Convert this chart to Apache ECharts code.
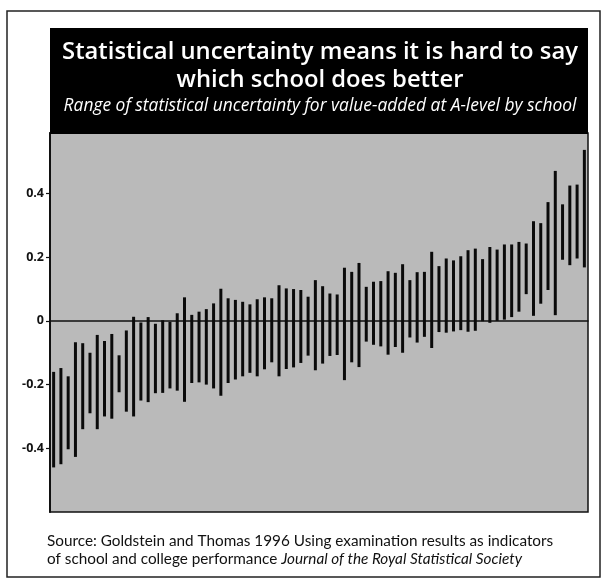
<!DOCTYPE html>
<html>
<head>
<meta charset="utf-8">
<script src="https://cdn.jsdelivr.net/npm/echarts@6/dist/echarts.min.js"></script>
<style>
  html, body { margin: 0; padding: 0; background: #fff; }
  #chart { width: 608px; height: 581px; }
</style>
</head>
<body>
<div id="chart"></div>
<script>
// lower and upper ends of the uncertainty range, one per school (ranked)
var lows = [
  -0.46, -0.45, -0.403, -0.427, -0.34, -0.29, -0.34, -0.30, -0.307, -0.224,
  -0.285, -0.30, -0.25, -0.255, -0.227, -0.226, -0.212, -0.219, -0.254, -0.195,
  -0.193, -0.20, -0.212, -0.235, -0.195, -0.184, -0.174, -0.163, -0.174, -0.152,
  -0.13, -0.174, -0.151, -0.146, -0.132, -0.109, -0.155, -0.134, -0.11, -0.107,
  -0.186, -0.13, -0.145, -0.065, -0.075, -0.08, -0.106, -0.082, -0.10, -0.052,
  -0.068, -0.05, -0.085, -0.035, -0.037, -0.033, -0.029, -0.034, -0.031, -0.001,
  -0.006, 0.0, 0.004, 0.012, 0.029, 0.084, 0.016, 0.054, 0.097, 0.018,
  0.192, 0.175, 0.196, 0.168
];
var highs = [
  -0.16, -0.148, -0.174, -0.067, -0.07, -0.10, -0.044, -0.063, -0.041, -0.108,
  -0.03, 0.013, -0.005, 0.012, -0.009, 0.002, -0.003, 0.024, 0.074, 0.019,
  0.029, 0.037, 0.055, 0.101, 0.071, 0.066, 0.06, 0.052, 0.068, 0.074,
  0.071, 0.112, 0.102, 0.10, 0.097, 0.076, 0.128, 0.109, 0.086, 0.083,
  0.167, 0.154, 0.182, 0.107, 0.123, 0.125, 0.156, 0.151, 0.178, 0.128,
  0.153, 0.154, 0.217, 0.172, 0.196, 0.19, 0.203, 0.222, 0.227, 0.194,
  0.232, 0.224, 0.24, 0.24, 0.248, 0.243, 0.313, 0.307, 0.373, 0.471,
  0.366, 0.425, 0.428, 0.537
];
var schools = lows.map(function (v, i) { return 'School ' + (i + 1); });
var tickValues = [-0.4, -0.2, 0, 0.2, 0.4];
var tickLabels = ['-0.4', '-0.2', '0', '0.2', '0.4'];

var titleText = 'Statistical uncertainty means it is hard to say';
var titleText2 = 'which school does better';
var subtitleText = 'Range of statistical uncertainty for value-added at A-level by school';
var source1 = 'Source: Goldstein and Thomas 1996 Using examination results as indicators';
var source2 = 'of school and college performance ';
var source3 = 'Journal of the Royal Statistical Society';

var myChart = echarts.init(document.getElementById('chart'));

var option = {
  backgroundColor: '#ffffff',
  animation: false,
  grid: {
    left: 50, right: 20, top: 133, bottom: 69,
    show: true,
    backgroundColor: '#bababa',
    borderColor: '#111',
    borderWidth: 1.5
  },
  xAxis: {
    type: 'category',
    data: schools,
    axisLine: { onZero: true, lineStyle: { color: '#111', width: 1.5 } },
    axisTick: { show: false },
    axisLabel: { show: false },
    splitLine: { show: false }
  },
  yAxis: {
    type: 'value',
    min: -0.6,
    max: 0.59,
    interval: 0.2,
    axisLine: { show: true, lineStyle: { color: '#111', width: 2 } },
    axisTick: { show: true, length: 4, customValues: tickValues, lineStyle: { color: '#111', width: 1.2 } },
    axisLabel: {
      customValues: tickValues,
      margin: 6,
      color: '#111',
      fontFamily: 'Open Sans',
      fontWeight: 'bold',
      fontSize: 12.5,
      formatter: function (v) {
        for (var i = 0; i < tickValues.length; i++) {
          if (Math.abs(tickValues[i] - v) < 1e-6) return tickLabels[i];
        }
        return '';
      }
    },
    splitLine: { show: false }
  },
  series: [{
    type: 'custom',
    data: lows.map(function (lo, i) { return [i, lo, highs[i]]; }),
    encode: { x: 0, y: [1, 2] },
    renderItem: function (params, api) {
      var lo = api.coord([api.value(0), api.value(1)]);
      var hi = api.coord([api.value(0), api.value(2)]);
      var w = 3;
      return {
        type: 'rect',
        shape: { x: lo[0] - w / 2, y: hi[1], width: w, height: lo[1] - hi[1] },
        style: { fill: '#0a0a0a' }
      };
    },
    z: 3
  }],
  graphic: [
    {
      type: 'rect',
      shape: { x: 7, y: 11, width: 593, height: 566 },
      style: { fill: 'none', stroke: '#222', lineWidth: 1.5 },
      z: 0
    },
    {
      type: 'rect',
      shape: { x: 50, y: 28, width: 538, height: 106 },
      style: { fill: '#000' },
      z: 10
    },
    {
      type: 'text', x: 320, y: 52,
      style: {
        text: titleText, fill: '#fff', align: 'center', verticalAlign: 'middle',
        font: '600 23.8px "Open Sans"'
      },
      z: 11
    },
    {
      type: 'text', x: 320, y: 80,
      style: {
        text: titleText2, fill: '#fff', align: 'center', verticalAlign: 'middle',
        font: '600 23.8px "Open Sans"'
      },
      z: 11
    },
    {
      type: 'text', x: 320, y: 106,
      style: {
        text: subtitleText, fill: '#fff', align: 'center', verticalAlign: 'middle',
        font: 'italic 17.4px "Open Sans"'
      },
      z: 11
    },
    {
      type: 'text', x: 47, y: 541,
      style: {
        text: source1, fill: '#111', align: 'left', verticalAlign: 'middle',
        font: '15.3px Lato'
      }
    },
    {
      type: 'text', x: 47, y: 559,
      style: {
        text: '{r|' + source2 + '}{i|' + source3 + '}',
        align: 'left', verticalAlign: 'middle',
        rich: {
          r: { fill: '#111', fontFamily: 'Lato', fontSize: 15.3 },
          i: { fill: '#111', fontFamily: 'Lato', fontSize: 15.3, fontStyle: 'italic' }
        }
      }
    }
  ]
};

myChart.setOption(option);
</script>
</body>
</html>
